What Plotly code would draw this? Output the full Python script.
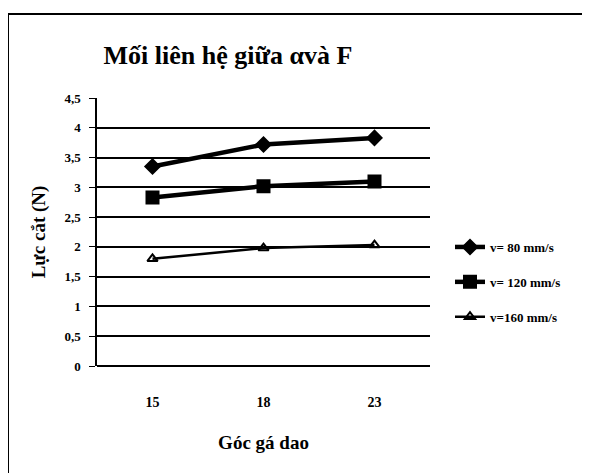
import plotly.graph_objects as go

categories = ["15", "18", "23"]
series_names = ["v= 80 mm/s", "v= 120 mm/s", "v=160 mm/s"]
v80 = [3.35, 3.72, 3.83]
v120 = [2.83, 3.02, 3.1]
v160 = [1.8, 1.98, 2.03]
y_ticks = [0, 0.5, 1, 1.5, 2, 2.5, 3, 3.5, 4, 4.5]
y_tick_labels = ["0", "0,5", "1", "1,5", "2", "2,5", "3", "3,5", "4", "4,5"]

FONT = "Liberation Serif"
OFF = 8  # browser body margin
W, H = 590 - OFF, 473 - OFF
L, R, T, B = 97 - OFF, 160, 98 - OFF, 107
pw, ph = W - L - R, H - T - B

def px_x(x):
    return (x - OFF - L) / pw

def px_y(y):
    return (H - B - (y - OFF)) / ph

fig = go.Figure()
styles = [
    dict(symbol="diamond", size=11, lw=4.5),
    dict(symbol="square", size=12, lw=4.5),
    dict(symbol="triangle-up-open", size=9, lw=2.5),
]
for i, (name, vals, st) in enumerate(zip(series_names, [v80, v120, v160], styles)):
    fig.add_trace(go.Scatter(
        x=categories, y=vals, name=f"<b>{name}</b>", mode="lines+markers",
        legendgroup=f"g{i}",
        line=dict(color="black", width=st["lw"]),
        marker=dict(symbol=st["symbol"], size=st["size"], color="black",
                    line=dict(color="black", width=2)),
    ))

fig.update_layout(
    width=W, height=H,
    margin=dict(l=L, r=R, t=T, b=B, autoexpand=False),
    paper_bgcolor="white", plot_bgcolor="white",
    font=dict(family=FONT, color="black", size=11),
    showlegend=True,
    legend=dict(x=px_x(450), y=px_y(232), xanchor="left", yanchor="top",
                font=dict(family=FONT, size=13, color="black"),
                tracegroupgap=15, bgcolor="rgba(0,0,0,0)", itemwidth=30),
    title=dict(text="<b>Mối liên hệ giữa αvà F</b>", x=(228 - OFF) / W, xanchor="center",
               y=1 - (55 - OFF) / H, yanchor="middle",
               font=dict(family=FONT, size=26, color="black")),
    xaxis=dict(type="category", range=[-0.5, 2.5], showgrid=False, showline=False, ticks="",
               tickfont=dict(family=FONT, size=14, color="black"),
               tickprefix="<b>", ticksuffix="</b>", ticklabelstandoff=26,
               title=dict(text="<b>Góc gá dao</b>", font=dict(family=FONT, size=19),
                          standoff=26),
               zeroline=False),
    yaxis=dict(range=[0, 4.5], tickvals=y_ticks, ticktext=[f"<b>{t}</b>" for t in y_tick_labels],
               showgrid=True, gridcolor="black", gridwidth=1.5,
               showline=True, linecolor="black", linewidth=1.5,
               ticks="outside", ticklen=6, tickcolor="black", ticklabelstandoff=6,
               tickfont=dict(family=FONT, size=13, color="black"),
               title=dict(text="<b>Lực cắt (N)</b>", font=dict(family=FONT, size=19),
                          standoff=14),
               zeroline=True, zerolinecolor="black", zerolinewidth=1.5),
)

fig.add_shape(type="rect", xref="paper", yref="paper",
              x0=px_x(8), x1=px_x(620), y0=px_y(500), y1=px_y(14),
              line=dict(color="black", width=2), fillcolor="rgba(0,0,0,0)", layer="below")

fig.write_html("out.html")
